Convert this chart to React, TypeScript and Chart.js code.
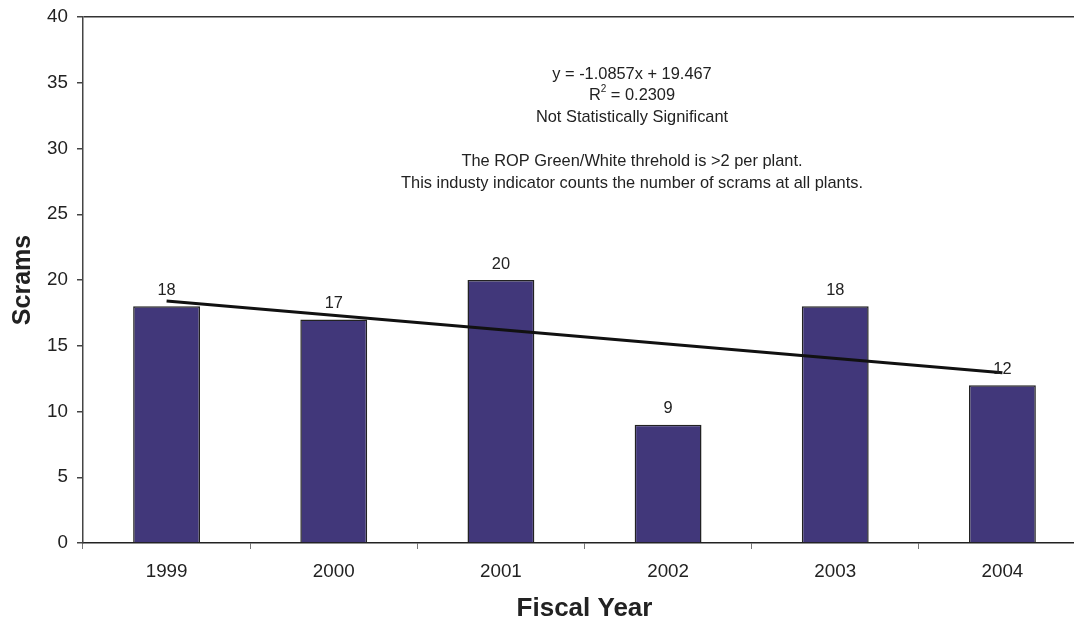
import React, { useEffect, useRef } from "react";
import { Chart, registerables } from "chart.js";

Chart.register(...registerables);

const categories = ["1999", "2000", "2001", "2002", "2003", "2004"];
const scrams = [18, 17, 20, 9, 18, 12];
// Trend line endpoints (1999 and 2004)
const trendPoints = [18.4, null, null, null, null, 12.95];
const yTicks = [0, 5, 10, 15, 20, 25, 30, 35, 40];
const annotationLines = [
  "y = -1.0857x + 19.467",
  "R2 = 0.2309",
  "Not Statistically Significant",
  "",
  "The ROP Green/White threhold is >2 per plant.",
  "This industy indicator counts the number of scrams at all plants.",
];

const FONT = "Arial, 'Liberation Sans', sans-serif";
const TEXT = "#222";

export default function App() {
  const ref = useRef<HTMLCanvasElement | null>(null);

  useEffect(() => {
    if (!ref.current) return;

    const labelPlugin = {
      id: "valueLabels",
      afterDatasetsDraw(chart: any) {
        const ctx = chart.ctx;
        const meta = chart.getDatasetMeta(0);
        ctx.save();
        ctx.font = `16.4px ${FONT}`;
        ctx.fillStyle = TEXT;
        ctx.textAlign = "center";
        ctx.textBaseline = "middle";
        meta.data.forEach((bar: any, i: number) => {
          ctx.fillText(String(scrams[i]), bar.x, bar.y - 16);
        });
        ctx.restore();
      },
    };

    const annotationPlugin = {
      id: "annotation",
      afterDraw(chart: any) {
        const ctx = chart.ctx;
        const cx = 632;
        const big = `16.4px ${FONT}`;
        const small = `10px ${FONT}`;
        ctx.save();
        ctx.font = big;
        ctx.fillStyle = TEXT;
        ctx.textAlign = "center";
        ctx.textBaseline = "middle";
        const lineH = 21.8;
        annotationLines.forEach((line, i) => {
          const y = 74 + i * lineH;
          if (!line) return;
          if (line.startsWith("R2")) {
            const rest = " = 0.2309";
            ctx.font = big;
            const wR = ctx.measureText("R").width;
            const wRest = ctx.measureText(rest).width;
            ctx.font = small;
            const wSup = ctx.measureText("2").width;
            const total = wR + wSup + wRest;
            let x = cx - total / 2;
            ctx.textAlign = "left";
            ctx.font = big;
            ctx.fillText("R", x, y);
            x += wR;
            ctx.font = small;
            ctx.fillText("2", x, y - 7);
            x += wSup;
            ctx.font = big;
            ctx.fillText(rest, x, y);
            ctx.textAlign = "center";
          } else {
            ctx.font = big;
            ctx.fillText(line, cx, y);
          }
        });
        ctx.restore();
      },
    };

    const chart = new Chart(ref.current, {
      type: "bar",
      data: {
        labels: categories,
        datasets: [
          {
            type: "bar",
            data: scrams,
            backgroundColor: "#41377A",
            borderColor: "#222",
            borderWidth: 1.5,
            barPercentage: 0.4,
            categoryPercentage: 1,
            order: 2,
          },
          {
            type: "line",
            data: trendPoints as any,
            borderColor: "#111",
            borderWidth: 3,
            pointRadius: 0,
            spanGaps: true,
            fill: false,
            order: 1,
          } as any,
        ],
      },
      options: {
        responsive: false,
        animation: false,
        layout: { padding: { top: 17, left: 0, right: 0, bottom: 0 } },
        plugins: {
          legend: { display: false },
          tooltip: { enabled: false },
        },
        scales: {
          x: {
            afterFit(scale: any) {
              scale.height = 81;
              scale.paddingLeft = 0;
              scale.paddingRight = 0;
            },
            grid: {
              display: true,
              drawOnChartArea: false,
              drawTicks: true,
              tickLength: 6,
              color: "#777",
              tickColor: "#777",
              offset: true,
            },
            border: { display: true, color: "#222", width: 1.5 },
            ticks: {
              color: TEXT,
              font: { family: FONT, size: 18.8 },
              padding: 12,
              maxRotation: 0,
            },
            title: {
              display: true,
              text: "Fiscal Year",
              color: TEXT,
              font: { family: FONT, size: 26, weight: "bold" },
              padding: { top: 0, bottom: 0 },
            },
          },
          y: {
            min: 0,
            max: 40,
            afterFit(scale: any) {
              scale.width = 83;
              scale.paddingTop = 0;
              scale.paddingBottom = 0;
            },
            afterBuildTicks(scale: any) {
              scale.ticks = yTicks.map((v) => ({ value: v }));
            },
            grid: {
              display: true,
              drawOnChartArea: true,
              drawTicks: true,
              tickLength: 6,
              lineWidth: 1.5,
              color: (ctx: any) =>
                ctx.tick && ctx.tick.value === 40 ? "#333" : "rgba(0,0,0,0)",
              tickColor: "#444",
            },
            border: { display: true, color: "#444", width: 1.5 },
            ticks: {
              color: TEXT,
              font: { family: FONT, size: 18.8 },
              padding: 9,
            },
            title: {
              display: true,
              text: "Scrams",
              color: TEXT,
              font: { family: FONT, size: 25, weight: "bold" },
              padding: { top: 8, bottom: 0 },
            },
          },
        },
      },
      plugins: [labelPlugin, annotationPlugin],
    });

    return () => chart.destroy();
  }, []);

  return (
    <div
      style={{
        position: "fixed",
        top: 0,
        left: 0,
        width: 1074,
        height: 624,
        overflow: "hidden",
        background: "#fff",
      }}
    >
      <canvas ref={ref} width={1086} height={624} style={{ display: "block" }} />
    </div>
  );
}
